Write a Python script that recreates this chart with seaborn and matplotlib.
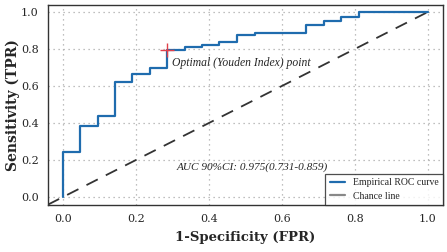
import numpy as np
import seaborn as sns
import matplotlib.pyplot as plt
from matplotlib.lines import Line2D

# ---------------- DATA ----------------
fpr = [0, 0, 0.047, 0.095, 0.142, 0.19, 0.238, 0.285, 0.334, 0.38,
       0.427, 0.476, 0.526, 0.667, 0.715, 0.763, 0.811, 1.0]
tpr = [0, 0.243, 0.384, 0.44, 0.62, 0.665, 0.70, 0.795, 0.81, 0.824,
       0.836, 0.876, 0.886, 0.93, 0.953, 0.975, 1.0, 1.0]
youden_point = (0.285, 0.795)
ticks = [0.0, 0.2, 0.4, 0.6, 0.8, 1.0]
auc_text = "AUC 90%CI: 0.975(0.731-0.859)"

# ---------------- STYLE ----------------
sns.set_style("white")
plt.rcParams['font.family'] = ['DejaVu Serif']

fig = plt.figure(figsize=(4.47, 2.52), dpi=100)
ax = fig.add_axes([0.107, 0.187, 0.884, 0.793])

# chance line
ax.plot([-0.042, 1.0], [-0.042, 1.0], color="#333333", lw=1.3,
        linestyle=(0, (7, 5)), zorder=2)

# ROC curve
sns.lineplot(x=fpr, y=tpr, ax=ax, sort=False, estimator=None,
             drawstyle="steps-post", color="#1f6cae", lw=1.6, zorder=3)

ax.plot(*youden_point, marker="+", color="#e0404a", ms=10, mew=1.0, zorder=4)
ax.text(0.30, 0.725, "Optimal (Youden Index) point", fontsize=8.4,
        style="italic", va="center", ha="left", family="Liberation Serif")
ax.text(0.31, 0.16, auc_text, fontsize=8.1, style="italic", va="center",
        ha="left", family="Liberation Serif")

ax.set_xlim(-0.042, 1.042)
ax.set_ylim(-0.043, 1.038)
ax.set_xticks(ticks)
ax.set_yticks(ticks)
ax.tick_params(labelsize=8, length=3, width=0.8, color="#333333", direction="out")
ax.grid(True, linestyle=(0, (1, 3)), color="#aaaaaa", lw=0.9)
for s in ax.spines.values():
    s.set_color("#333333")
    s.set_linewidth(1.0)

ax.set_xlabel("1-Specificity (FPR)", fontsize=9.5, fontweight="bold", labelpad=5)
ax.set_ylabel("Sensitivity (TPR)", fontsize=10, fontweight="bold", labelpad=1)

handles = [Line2D([], [], color="#1f6cae", lw=1.6),
           Line2D([], [], color="#888888", lw=1.6)]
leg = ax.legend(handles, ["Empirical ROC curve", "Chance line"], loc="lower right",
                prop={"family": "Liberation Serif", "size": 7}, frameon=True,
                fancybox=False, borderaxespad=0, handlelength=1.6,
                borderpad=0.45, labelspacing=0.45)
leg.get_frame().set_edgecolor("#222222")
leg.get_frame().set_linewidth(0.9)

plt.savefig("out.png", dpi=100)
